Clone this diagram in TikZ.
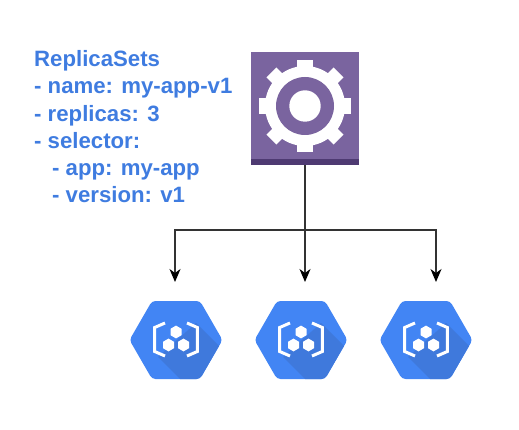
\documentclass[tikz,border=0pt]{standalone}
\usepackage{fontspec}
\setmainfont{Liberation Sans}
\usetikzlibrary{arrows.meta}
\definecolor{txtblue}{HTML}{3F7CE0}
\definecolor{hexblue}{HTML}{4285F4}
\definecolor{hexdark}{HTML}{3F79DC}
\definecolor{gearbg}{HTML}{7A649F}
\definecolor{geardark}{HTML}{4E3A72}
\tikzset{
  x=1pt,y=-1pt,
  conn/.style={draw=black!80,line width=1.3pt},
  arrowconn/.style={conn,-{Stealth[length=13pt,width=11pt,inset=4pt,black]},shorten >=19pt},
  hexslot/.style={minimum width=90pt,minimum height=78pt,inner sep=0pt,outer sep=0pt},
  gearbox/.style={fill=gearbg,minimum width=108pt,minimum height=113pt,inner sep=0pt,outer sep=0pt},
  spec/.style={anchor=base west,inner sep=0pt,text=txtblue,font=\fontsize{22.2}{26}\selectfont\bfseries}
}
\newcommand{\smallhex}[2]{%
  \fill[white] (#1,#2-6.4) -- (#1+5.5,#2-3.2) -- (#1+5.5,#2+3.2) -- (#1,#2+6.4) -- (#1-5.5,#2+3.2) -- (#1-5.5,#2-3.2) -- cycle;}
\newcommand{\hexicon}[1]{%
  \begin{scope}[shift={(#1)}]
    \begin{scope}
      \clip[rounded corners=3.5pt] (-46.5,0) -- (-24,-39) -- (24,-39) -- (46.5,0) -- (24,39) -- (-24,39) -- cycle;
      \fill[hexblue] (-48,-40) rectangle (48,40);
      \fill[hexdark] (20,-17) -- (62,25) -- (62,50) -- (15,50) -- (-18,17) -- cycle;
    \end{scope}
    \smallhex{0}{-8}
    \smallhex{-7.5}{5}
    \smallhex{7.5}{5}
    \draw[white,line width=3pt,miter limit=4] (-11,-17) -- (-21.3,-12.5) -- (-21.3,11.5) -- (-11,16);
    \draw[white,line width=3pt,miter limit=4] (11,-17) -- (21.3,-12.5) -- (21.3,11.5) -- (11,16);
  \end{scope}}
\begin{document}
\begin{tikzpicture}
\useasboundingbox (0,0) rectangle (519,430);
\node[spec] (t1) at (34,67) {ReplicaSets};
\node[spec] (t2) at (34,94) {- name: my-app-v1};
\node[spec] (t3) at (34,121.5) {- replicas: 3};
\node[spec] (t4) at (34,149) {- selector:};
\node[spec] (t5) at (52,175.5) {- app: my-app};
\node[spec] (t6) at (52,203) {- version: v1};
\node[gearbox] (gear) at (305,108.5) {};
\fill[geardark] (251,159) rectangle (359,165);
\begin{scope}[shift={(gear.center)},yshift=2.5pt]
  \fill[white] (0,0) circle (40);
  \foreach \a in {0,90,180,270}{
    \fill[white,rotate=\a] (-8.3,-34) rectangle (8.3,-46);
  }
  \foreach \a in {45,135,225,315}{
    \fill[white,rotate=\a] (-7,-34) rectangle (7,-47.5);
  }
  \fill[gearbg] (0,0) circle (29);
  \fill[white] (0,0) circle (15.7);
\end{scope}
\hexicon{176,340}
\hexicon{301,340}
\hexicon{426,340}
\node[hexslot] (h1) at (175,340) {};
\node[hexslot] (h2) at (305,340) {};
\node[hexslot] (h3) at (436,340) {};
\coordinate (bus) at (305,230);
\draw[conn] (gear.south) -- (bus);
\draw[arrowconn] (bus) -| (h1.north);
\draw[arrowconn] (bus) -- (h2.north);
\draw[arrowconn] (bus) -| (h3.north);
\end{tikzpicture}
\end{document}
